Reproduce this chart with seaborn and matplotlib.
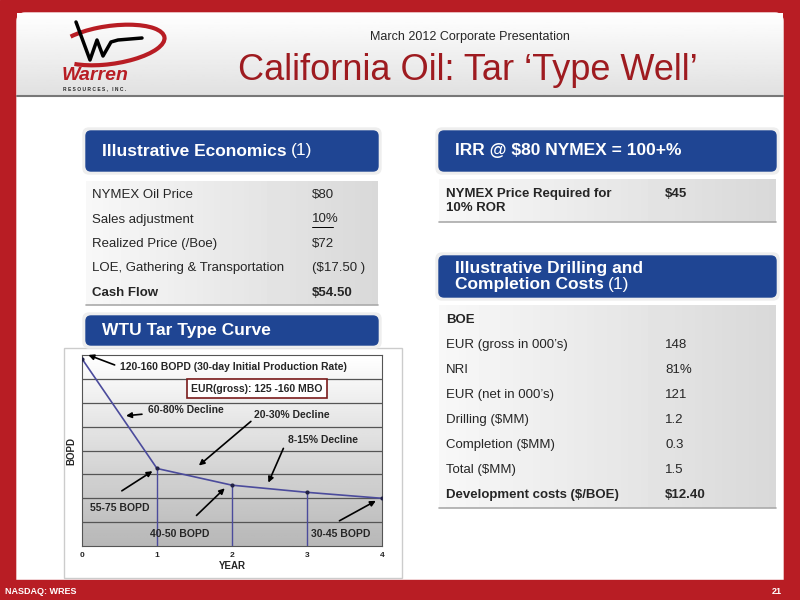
import numpy as np
import pandas as pd
import matplotlib
matplotlib.use("Agg")
import matplotlib.pyplot as plt
from matplotlib.patches import FancyBboxPatch, Rectangle, Arc
import seaborn as sns

sns.set_theme(style="white")
plt.rcParams["font.family"] = ["Liberation Sans", "DejaVu Sans"]

# data
years = [0, 1, 2, 3, 4]
bopd = [157, 65, 51, 45, 40]
econ_labels = ["NYMEX Oil Price", "Sales adjustment", "Realized Price (/Boe)",
               "LOE, Gathering & Transportation", "Cash Flow"]
econ_values = ["$80", "10%", "$72", "($17.50 )", "$54.50"]
cost_labels = ["BOE", "EUR (gross in 000\u2019s)", "NRI", "EUR (net in 000\u2019s)",
               "Drilling ($MM)", "Completion ($MM)", "Total ($MM)",
               "Development costs ($/BOE)"]
cost_values = ["", "148", "81%", "121", "1.2", "0.3", "1.5", "$12.40"]

RED = "#b81d24"
DARKRED = "#9e1b20"
BLUE = "#1f4593"

fig = plt.figure(figsize=(8, 6), dpi=100)
bg = fig.add_axes([0, 0, 1, 1], zorder=0)
bg.set_xlim(0, 800)
bg.set_ylim(600, 0)
bg.axis("off")
renderer = fig.canvas.get_renderer()

# frame
bg.add_patch(Rectangle((0, 0), 800, 600, color=RED))
bg.add_patch(FancyBboxPatch((17, 13), 766, 575, boxstyle="round,pad=0,rounding_size=8",
                            color="white", zorder=1))
grad = np.linspace(1, 0.88, 50).reshape(-1, 1)
bg.imshow(grad, extent=(17, 783, 96, 13), cmap="gray", vmin=0, vmax=1, aspect="auto", zorder=2)
bg.plot([17, 783], [96, 96], color="#777777", lw=1.5, zorder=3)
bg.add_patch(Rectangle((0, 580), 800, 20, color=RED, zorder=3))
bg.text(5, 591, "NASDAQ: WRES", color="white", fontsize=6.5, weight="bold", va="center", zorder=4)
bg.text(782, 591, "21", color="white", fontsize=6.5, weight="bold", va="center", ha="right", zorder=4)

# title
bg.text(470, 37, "March 2012 Corporate Presentation", fontsize=9, ha="center", va="center", zorder=4)
bg.text(468, 70, "California Oil: Tar \u2018Type Well\u2019", fontsize=26, color=DARKRED,
        ha="center", va="center", zorder=4)

# logo
bg.add_patch(Arc((110, 45), 110, 38, theta1=200, theta2=520, angle=-8, color=RED, lw=3, zorder=4))
bg.plot([76, 90, 97, 103, 111, 118, 142], [22, 60, 40, 56, 42, 40, 38], color="black", lw=2.5, zorder=5)
bg.text(62, 75, "Warren", color=RED, fontsize=14, weight="bold", style="italic", va="center", zorder=5)
bg.text(63, 89, "R E S O U R C E S ,   I N C .", fontsize=3.5, weight="bold", va="center", zorder=5)


def header(x0, x1, y0, y1, lines, paren=None):
    bg.add_patch(FancyBboxPatch((x0 - 3, y0 - 3), x1 - x0 + 6, y1 - y0 + 6,
                                boxstyle="round,pad=0,rounding_size=6", color="#eeeeee", zorder=4))
    bg.add_patch(FancyBboxPatch((x0, y0), x1 - x0, y1 - y0,
                                boxstyle="round,pad=0,rounding_size=5", color=BLUE, zorder=5))
    n = len(lines)
    yc = (y0 + y1) / 2
    for k, line in enumerate(lines):
        yl = yc + (k - (n - 1) / 2) * 17
        t = bg.text(x0 + 16, yl, line, color="white", fontsize=12.5, weight="bold",
                    va="center", zorder=6)
    if paren:
        w = t.get_window_extent(renderer).width
        bg.text(x0 + 16 + w + 4, yl, paren, color="white", fontsize=12.5, va="center", zorder=6)


def table_bg(x0, x1, y0, y1):
    g = np.linspace(0.97, 0.85, 50).reshape(1, -1)
    bg.imshow(g, extent=(x0, x1, y1, y0), cmap="gray", vmin=0, vmax=1, aspect="auto", zorder=4)
    bg.plot([x0, x1], [y1, y1], color="#aaaaaa", lw=1.2, zorder=5)


# Illustrative Economics
header(86, 378, 131, 171, ["Illustrative Economics"], "(1)")
table_bg(86, 378, 181, 305)
for i, (lab, val) in enumerate(zip(econ_labels, econ_values)):
    y = 195 + i * 24.5
    w = "bold" if lab == "Cash Flow" else "normal"
    bg.text(92, y, lab, fontsize=9.5, va="center", weight=w, zorder=6)
    bg.text(312, y, val, fontsize=9.5, va="center", weight=w, zorder=6)
bg.plot([312, 333], [227, 227], color="black", lw=0.7, zorder=6)

# IRR
header(439, 776, 131, 171, ["IRR @ $80 NYMEX = 100+%"])
table_bg(439, 776, 179, 222)
bg.text(446, 194, "NYMEX Price Required for", fontsize=9.5, weight="bold", va="center", zorder=6)
bg.text(446, 208, "10% ROR", fontsize=9.5, weight="bold", va="center", zorder=6)
bg.text(665, 194, "$45", fontsize=9.5, weight="bold", va="center", zorder=6)

# Drilling costs
header(439, 776, 256, 297, ["Illustrative Drilling and", "Completion Costs"], "(1)")
table_bg(439, 776, 305, 508)
for i, (lab, val) in enumerate(zip(cost_labels, cost_values)):
    y = 320 + i * 25
    w = "bold" if i in (0, 7) else "normal"
    bg.text(446, y, lab, fontsize=9.5, va="center", weight=w, zorder=6)
    bg.text(665, y, val, fontsize=9.5, va="center", weight=w, zorder=6)

# type curve panel
bg.add_patch(Rectangle((64, 348), 338, 230, facecolor="white", edgecolor="#cccccc", zorder=4))
header(86, 378, 316, 345, ["WTU Tar Type Curve"])

ax = fig.add_axes([0.1025, 0.09, 0.375, 0.318], zorder=5)
ax.set_xlim(0, 4)
ax.set_ylim(0, 160)
g = np.linspace(0.72, 1.0, 80).reshape(-1, 1)
ax.imshow(g[::-1], extent=(0, 4, 0, 160), cmap="gray", vmin=0, vmax=1, aspect="auto", zorder=0)
for yy in range(20, 160, 20):
    ax.axhline(yy, color="#555555", lw=0.9, zorder=1)
df = pd.DataFrame({"YEAR": years, "BOPD": bopd})
sns.lineplot(data=df, x="YEAR", y="BOPD", ax=ax, color="#4b4b9c", lw=1.2, marker="o",
             markersize=3, markeredgewidth=0, markerfacecolor="#222244", zorder=3)
ax.vlines(years[1:4], 0, bopd[1:4], color="#4b4b9c", lw=1, zorder=2)
ax.set_xticks(years)
ax.set_yticks([])
ax.tick_params(axis="x", labelsize=6, length=0, pad=4)
for t in ax.get_xticklabels():
    t.set_fontweight("bold")
ax.set_xlabel("YEAR", fontsize=7, weight="bold", labelpad=2)
ax.set_ylabel("BOPD", fontsize=7, weight="bold", labelpad=4)
for s in ax.spines.values():
    s.set_color("#555555")
    s.set_linewidth(0.8)

ap = dict(arrowstyle="-|>", color="black", lw=1.2, mutation_scale=8)
fs = 7.5
ax.text(0.5, 150, "120-160 BOPD (30-day Initial Production Rate)", fontsize=fs, weight="bold", va="center")
ax.annotate("", xy=(0.05, 161), xytext=(0.47, 151), arrowprops=ap, annotation_clip=False)
ax.text(2.33, 132, "EUR(gross): 125 -160 MBO", fontsize=fs, weight="bold", ha="center", va="center",
        bbox=dict(facecolor="white", edgecolor="#7a1b1b", lw=1.2, pad=3))
ax.annotate("60-80% Decline", xy=(0.55, 109), xytext=(0.88, 114), fontsize=fs, weight="bold",
            va="center", arrowprops=ap)
ax.text(2.3, 110, "20-30% Decline", fontsize=fs, weight="bold", va="center")
ax.annotate("", xy=(1.53, 66), xytext=(2.28, 106), arrowprops=ap)
ax.text(2.75, 89, "8-15% Decline", fontsize=fs, weight="bold", va="center")
ax.annotate("", xy=(2.47, 51), xytext=(2.7, 84), arrowprops=ap)
ax.text(0.1, 32, "55-75 BOPD", fontsize=fs, weight="bold", va="center")
ax.annotate("", xy=(0.97, 64), xytext=(0.5, 45), arrowprops=ap)
ax.text(0.9, 10, "40-50 BOPD", fontsize=fs, weight="bold", va="center")
ax.annotate("", xy=(1.93, 50), xytext=(1.5, 24), arrowprops=ap)
ax.text(3.05, 10, "30-45 BOPD", fontsize=fs, weight="bold", va="center")
ax.annotate("", xy=(3.95, 39), xytext=(3.4, 20), arrowprops=ap)

fig.savefig("out.png", dpi=100)
